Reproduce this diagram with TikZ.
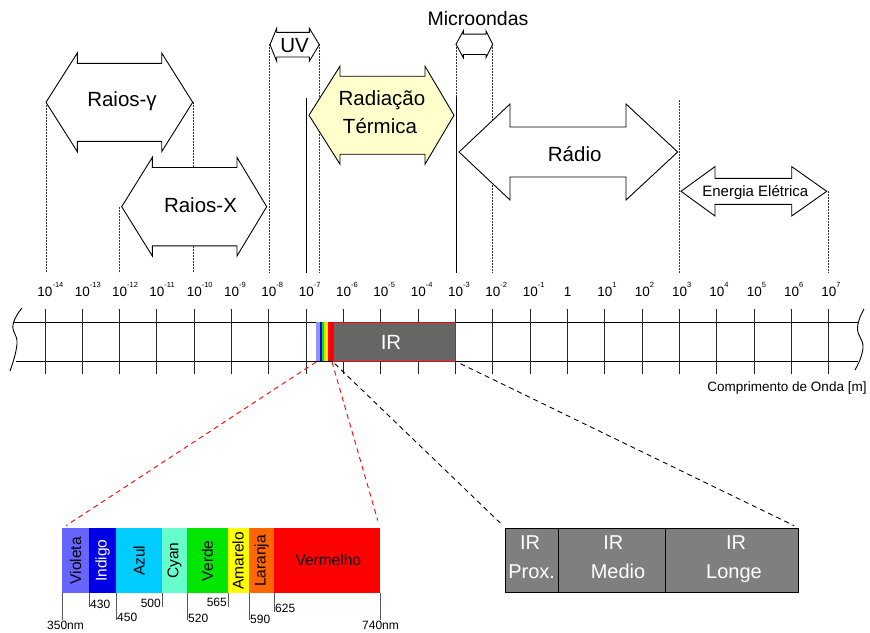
\documentclass[tikz,border=0pt]{standalone}
\usepackage{fontspec}
\setmainfont{Liberation Sans}
\definecolor{yel}{HTML}{FFFFCC}
\definecolor{irgray}{HTML}{666666}
\definecolor{subgray}{HTML}{7F7F7F}
\definecolor{cviol}{HTML}{6666FF}
\definecolor{cind}{HTML}{0000E6}
\definecolor{cazul}{HTML}{00CCFF}
\definecolor{ccyan}{HTML}{66FFCC}
\definecolor{cverde}{HTML}{00E600}
\definecolor{camar}{HTML}{FFFF00}
\definecolor{claran}{HTML}{FF6600}
\definecolor{cverm}{HTML}{FF0000}
\newcommand\dblarrow[8]{\draw[#1] (#2,#6) -- (#3,{#6-#7}) -- (#3,{#6-#8}) -- (#4,{#6-#8}) -- (#4,{#6-#7}) -- (#5,#6) -- (#4,{#6+#7}) -- (#4,{#6+#8}) -- (#3,{#6+#8}) -- (#3,{#6+#7}) -- cycle;}
\begin{document}
\begin{tikzpicture}[x=1pt,y=-1pt,
  dotv/.style={dash pattern=on 1.6pt off 1.4pt, line width=0.8pt, draw=black!80},
  solidv/.style={line width=1pt, draw=black},
  arr/.style={draw=black, line width=0.9pt, fill=white, line join=miter},
  big/.style={font=\fontsize{20.5}{24}\selectfont, anchor=base, inner sep=0},
  lab/.style={font=\fontsize{13.5}{15}\selectfont, anchor=base, inner sep=0},
  axtick/.style={line width=1pt, draw=black!85},
  seg/.style={minimum height=65pt, inner sep=0, draw=none, outer sep=0},
  spl/.style={rotate=90, font=\fontsize{15.5}{18}\selectfont, inner sep=0},
  nmtick/.style={line width=1pt, draw=black!65},
  nmlab/.style={font=\fontsize{12}{14}\selectfont, inner sep=0},
  subbox/.style={draw=black, line width=0.8pt, fill=subgray, minimum height=64.4pt, inner sep=0},
  sublab/.style={font=\fontsize{20}{24}\selectfont, text=white, anchor=base, inner sep=0},
  reddash/.style={draw=red, line width=0.9pt, dash pattern=on 5pt off 4pt},
  blkdash/.style={draw=black, line width=0.9pt, dash pattern=on 5pt off 4pt}]
\useasboundingbox (0,0) rectangle (870,632);

% vertical guide lines
\draw[dotv] (46,102) -- (46,273);
\draw[dotv] (193.5,102) -- (193.5,273);
\draw[dotv] (119,207) -- (119,273);
\draw[dotv] (269,44) -- (269,273);
\draw[dotv] (319,44) -- (319,273);
\draw[solidv] (306,98) -- (306,273);
\draw[dotv] (456,44) -- (456,97);
\draw[solidv] (456,97) -- (456,273);
\draw[dotv] (492.5,44) -- (492.5,273);
\draw[dotv] (679,100) -- (679,273);
\draw[dotv] (828,191) -- (828,273);

% double arrows
\dblarrow{arr}{46}{77.3}{161.7}{192.7}{102.3}{49.3}{39}
\dblarrow{arr}{121.7}{152.3}{237}{266.7}{206.7}{49.3}{39.2}
\dblarrow{arr}{270}{276.7}{309.3}{319.3}{44.7}{16.5}{12.3}
\dblarrow{arr}{456}{463.3}{486}{492.7}{44.3}{13.4}{10.2}
\dblarrow{arr,fill=yel}{309}{340}{425}{454}{115.2}{49}{39}
\dblarrow{arr}{459}{510}{626}{677.7}{152}{48}{25}
\dblarrow{arr}{681}{715}{791.7}{826.7}{191.3}{24.7}{13}

% arrow labels
\node[big] (gamma) at (122,106) {Raios-γ};
\node[big] (xray) at (200.5,212.7) {Raios-X};
\node[big] (uv) at (294.5,52.7) {UV};
\node[big, font=\fontsize{19.5}{24}\selectfont] (micro) at (478,25) {Microondas};
\node[big] (rad1) at (382,105) {Radiação};
\node[big] (rad2) at (380,133.3) {Térmica};
\node[big] (radio) at (574.7,161.7) {Rádio};
\node[big, font=\fontsize{15}{18}\selectfont] (energia) at (755.3,196.7) {Energia Elétrica};

% axis band
\draw[line width=1pt] (14,322) -- (858,322);
\draw[line width=1pt] (16,361) -- (858,361);
\draw[line width=0.9pt] plot[smooth, tension=0.8] coordinates {(22,308) (13,325) (17,344) (10,371)};
\draw[line width=0.9pt] plot[smooth, tension=0.8] coordinates {(864,309) (857.5,328) (863,348) (855,370)};
\foreach \i in {0,...,21} {
  \pgfmathsetmacro\xx{45+37.33*\i}
  \pgfmathtruncatemacro\ee{\i-14}
  \draw[axtick] (\xx,309) -- (\xx,374);
  \ifnum\ee=0
    \node[lab] (l\i) at (\xx,296.5) {1};
  \else
    \node[lab] (l\i) at (\xx,296.5) {10\rlap{\raisebox{9.4pt}{\fontsize{7.5}{7.5}\selectfont\ee}}};
  \fi
}
\node[lab, font=\fontsize{13.5}{15}\selectfont] (compr) at (787,391.7) {Comprimento de Onda [m]};

% visible light in band
\fill[cviol!70!white] (316,322) rectangle (319.5,361);
\fill[blue] (319.5,322) rectangle (322,361);
\fill[cverde] (322,322) rectangle (324,361);
\fill[yellow!80!green] (324,322) rectangle (325.5,361);
\fill[yellow] (325.5,322) rectangle (327.5,361);
\fill[red] (327.5,322) rectangle (333,361);
\coordinate (visL) at (316,362);
\coordinate (visR) at (332,362);

% IR box in band
\node[draw=red, line width=1pt, fill=irgray, minimum width=122.5pt, minimum height=39pt, inner sep=0] (ir) at (394.25,341.5) {};
\node[big, text=white] (irt) at (391,349.3) {IR};

% visible spectrum bar
\node[seg, fill=cviol, minimum width=27pt] (violeta) at (75.5,560.8) {};
\node[seg, fill=cind, minimum width=27pt] (indigo) at (102.5,560.8) {};
\node[seg, fill=cazul, minimum width=46.3pt] (azul) at (139.15,560.8) {};
\node[seg, fill=ccyan, minimum width=24.7pt] (cyan) at (174.65,560.8) {};
\node[seg, fill=cverde, minimum width=40.7pt] (verde) at (207.35,560.8) {};
\node[seg, fill=camar, minimum width=21pt] (amarelo) at (238.2,560.8) {};
\node[seg, fill=claran, minimum width=25.6pt] (laranja) at (261.5,560.8) {};
\node[seg, fill=cverm, minimum width=105.7pt] (vermelho) at (327.15,560.8) {};
\node[spl] (tviol) at (violeta.center) {Violeta};
\node[spl, text=white] (tind) at (indigo.center) {Indigo};
\node[spl] (tazul) at (azul.center) {Azul};
\node[spl] (tcyan) at (cyan.center) {Cyan};
\node[spl] (tverde) at (verde.center) {Verde};
\node[spl] (tamar) at (amarelo.center) {Amarelo};
\node[spl] (tlaran) at (laranja.center) {Laranja};
\node[font=\fontsize{15.5}{18}\selectfont, inner sep=0] (tverm) at (328.3,560) {Vermelho};

% nm ticks
\draw[nmtick] (62,593) -- (62,620);
\draw[nmtick] (89,593) -- (89,607);
\draw[nmtick] (116,593) -- (116,620);
\draw[nmtick] (162,593) -- (162,607);
\draw[nmtick] (187,593) -- (187,620);
\draw[nmtick] (228,593) -- (228,607);
\draw[nmtick] (249,593) -- (249,620);
\draw[nmtick] (274,593) -- (274,612);
\draw[nmtick] (380,593) -- (380,620);
\node[nmlab, anchor=base west] (n350) at (47,629.5) {350nm};
\node[nmlab, anchor=base west] (n430) at (90,608.3) {430};
\node[nmlab, anchor=base west] (n450) at (117,621.3) {450};
\node[nmlab, anchor=base east] (n500) at (161,607.3) {500};
\node[nmlab, anchor=base west] (n520) at (188,622.3) {520};
\node[nmlab, anchor=base east] (n565) at (227,606.3) {565};
\node[nmlab, anchor=base west] (n590) at (250,623.3) {590};
\node[nmlab, anchor=base west] (n625) at (275,612.3) {625};
\node[nmlab, anchor=base west] (n740) at (362,629.5) {740nm};

% IR sub boxes
\node[subbox, minimum width=52.6pt] (prox) at (532,560.5) {};
\node[subbox, minimum width=106.7pt] (medio) at (611.65,560.5) {};
\node[subbox, minimum width=133.3pt] (longe) at (731.65,560.5) {};
\node[sublab] (p1) at (530,549.3) {IR};
\node[sublab] (p2) at (531.7,578.3) {Prox.};
\node[sublab] (m1) at (613.3,549.3) {IR};
\node[sublab] (m2) at (618,578.3) {Medio};
\node[sublab] (g1) at (736,549.3) {IR};
\node[sublab] (g2) at (734,578.3) {Longe};

% dashed connectors
\draw[reddash, shorten >=5pt] (visL) -- (violeta.north west);
\draw[reddash, shorten >=8pt] (visR) -- (vermelho.north east);
\draw[blkdash, shorten <=3pt, shorten >=5pt] (ir.south west) -- (prox.north west);
\draw[blkdash, shorten <=5pt, shorten >=5pt] (ir.south east) -- (longe.north east);
\end{tikzpicture}
\end{document}
